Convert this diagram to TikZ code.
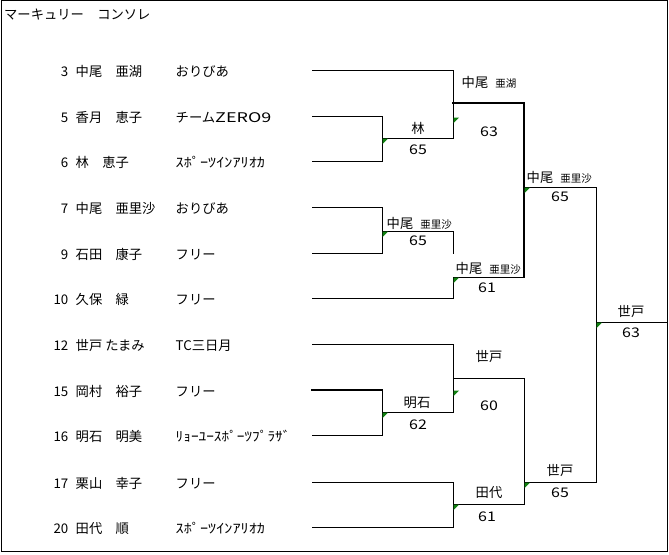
\documentclass[tikz,border=0pt]{standalone}
\usepackage{fontspec}
\usepackage{graphicx}
\setmainfont{Noto Sans CJK JP}
\definecolor{flaggreen}{RGB}{16,128,16}
\newcommand\smallpart[1]{{\fontsize{10.5}{12}\selectfont #1}}
\begin{document}
\begin{tikzpicture}[x=1pt,y=-1pt,
  txt/.style={inner sep=0pt, font=\fontsize{13.3}{15}\selectfont},
  lft/.style={txt, anchor=west},
  rgt/.style={txt, anchor=east},
  score/.style={txt, xscale=1.2},
  ln/.style={line width=1pt, line cap=rect},
  thk/.style={line width=2pt, line cap=rect},
  winflag/.pic={\fill[flaggreen] (0.5,0.5) -- (6,0.5) -- (0.5,6) -- cycle;}]

\useasboundingbox (0,0) rectangle (669,554);
\draw[line width=1pt] (1,0.5) rectangle (667,551.5);

\node[lft] (title) at (4,15) {マーキュリー　コンソレ};

% players
\foreach \nm/\num/\name/\club/\y in {
  p3/3/中尾　亜湖/おりびあ/70,
  p5/5/香月　恵子/チーム\scalebox{1.35}[1]{ZERO9}/116,
  p7/7/中尾　亜里沙/おりびあ/207,
  p9/9/石田　康子/フリー/253,
  p10/10/久保　緑/フリー/298,
  p12/12/世戸 たまみ/TC三日月/344,
  p15/15/岡村　裕子/フリー/390,
  p17/17/栗山　幸子/フリー/482}{
  \node[rgt] (\nm n) at (68.5,\y+1.5) {\num};
  \node[lft] (\nm t) at (75.5,\y+1.5) {\name};
  \node[lft] (\nm c) at (175.5,\y+1.5) {\club};
}
\node[rgt] (p6n) at (68.5,162.5) {6};
\node[lft] (p6t) at (75.5,162.5) {林　恵子};
\node[lft,xscale=1.22] (p6c) at (175.5,162.5) {ｽﾎﾟｰﾂｲﾝｱﾘｵｶ};
\node[rgt] (p16n) at (68.5,436.5) {16};
\node[lft] (p16t) at (75.5,436.5) {明石　明美};
\node[lft,xscale=1.15] (p16c) at (175.5,436.5) {ﾘｮｰﾕｰｽﾎﾟｰﾂﾌﾟﾗｻﾞ};
\node[rgt] (p20n) at (68.5,528.5) {20};
\node[lft] (p20t) at (75.5,528.5) {田代　順};
\node[lft,xscale=1.22] (p20c) at (175.5,528.5) {ｽﾎﾟｰﾂｲﾝｱﾘｵｶ};

% bracket coordinates
\coordinate (a3) at (312,70);   \coordinate (b3) at (453,70);
\coordinate (a5) at (312,116);  \coordinate (b5) at (382,116);
\coordinate (a6) at (312,161);  \coordinate (b6) at (382,161);
\coordinate (a7) at (312,207);  \coordinate (b7) at (382,207);
\coordinate (a9) at (312,253);  \coordinate (b9) at (382,253);
\coordinate (a10) at (312,298); \coordinate (b10) at (453,298);
\coordinate (a12) at (312,344); \coordinate (b12) at (453,344);
\coordinate (a15) at (312,390); \coordinate (b15) at (382,390);
\coordinate (a16) at (312,435); \coordinate (b16) at (382,435);
\coordinate (a17) at (312,482); \coordinate (b17) at (453,482);
\coordinate (a20) at (312,527); \coordinate (b20) at (453,527);

\coordinate (m1a) at (382,138); \coordinate (m1b) at (453,138);
\coordinate (m2a) at (453,103); \coordinate (m2b) at (524,103);
\coordinate (m3a) at (382,231); \coordinate (m3b) at (453,231);
\coordinate (m3c) at (453,253);
\coordinate (m4a) at (453,277); \coordinate (m4b) at (524,277);
\coordinate (m5a) at (524,187); \coordinate (m5b) at (596,187);
\coordinate (m6a) at (382,412); \coordinate (m6b) at (453,412);
\coordinate (m7a) at (453,378); \coordinate (m7b) at (524,378);
\coordinate (m8a) at (453,504); \coordinate (m8b) at (524,504);
\coordinate (m9a) at (524,482); \coordinate (m9b) at (596,482);
\coordinate (fa) at (596,322);  \coordinate (fb) at (667,322);
\coordinate (t2) at (453,117);  \coordinate (t7) at (453,390);

% bracket lines
\draw[ln] (a5) -- (b5) -- (b6) -- (a6);
\draw[ln] (a7) -- (b7) -- (b9) -- (a9);
\draw[thk] (a15) -- (b15);
\draw[ln] (b15) -- (b16) -- (a16);
\draw[ln] (m1a) -- (m1b);
\draw[ln] (a3) -- (b3) -- (m1b);
\draw[thk] (m2a) -- (m2b);
\draw[ln] (m3a) -- (m3b) -- (m3c);
\draw[ln] (m4b) -- (m4a) -- (b10) -- (a10);
\draw[thk] (m2b) -- (m4b);
\draw[ln] (m5a) -- (m5b) -- (m9b) -- (m9a);
\draw[ln] (a12) -- (b12) -- (m6b) -- (m6a);
\draw[ln] (m7a) -- (m7b) -- (m8b) -- (m8a);
\draw[ln] (a17) -- (b17) -- (b20) -- (a20);
\draw[ln] (fa) -- (fb);

% winner flags
\foreach \c in {m1a,t2,m3a,m4a,m5a,fa,m6a,t7,m8a,m9a}{
  \pic at (\c) {winflag};
}

% winner labels and scores
\node[lft] (w2) at (461.5,82) {中尾\hspace{7pt}\smallpart{亜湖}};
\node[score] (s2) at (489,132) {63};
\node[txt] (w1) at (418,128) {林};
\node[score] (s1) at (418,150) {65};
\node[lft] (w3) at (386.5,223) {中尾\hspace{7pt}\smallpart{亜里沙}};
\node[score] (s3) at (418,241) {65};
\node[lft] (w4) at (455.5,268) {中尾\hspace{7pt}\smallpart{亜里沙}};
\node[score] (s4) at (487,288) {61};
\node[lft] (w5) at (526.5,177) {中尾\hspace{7pt}\smallpart{亜里沙}};
\node[score] (s5) at (560,197) {65};
\node[txt] (wf) at (631,312) {世戸};
\node[score] (sf) at (631,333) {63};
\node[txt] (w7) at (489,357) {世戸};
\node[score] (s7) at (489,406) {60};
\node[txt] (w6) at (417,403) {明石};
\node[score] (s6) at (418,425) {62};
\node[txt] (w8) at (489,493) {田代};
\node[score] (s8) at (487,517) {61};
\node[txt] (w9) at (560,470) {世戸};
\node[score] (s9) at (560,493) {65};
\end{tikzpicture}
\end{document}
